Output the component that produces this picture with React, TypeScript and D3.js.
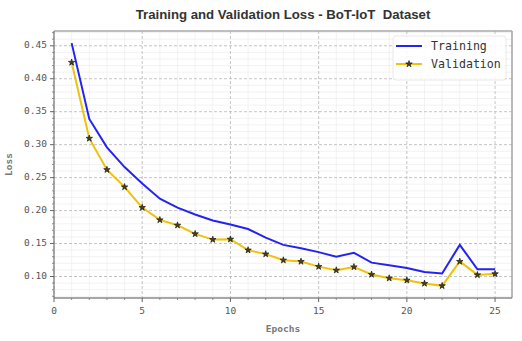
import React, { useRef, useEffect } from 'react';
import * as d3 from 'd3';

const epochs = d3.range(1, 26);

const trainingLoss = [
  0.454, 0.339, 0.296, 0.266, 0.241, 0.218, 0.2045, 0.194, 0.185, 0.179,
  0.172, 0.159, 0.148, 0.143, 0.137, 0.130, 0.136, 0.121, 0.117, 0.113,
  0.107, 0.1045, 0.148, 0.111, 0.111,
];

const validationLoss = [
  0.4247, 0.3095, 0.262, 0.2358, 0.2045, 0.1858, 0.1777, 0.1646, 0.156, 0.1565,
  0.140, 0.134, 0.1247, 0.1227, 0.115, 0.1095, 0.1145, 0.103, 0.0974, 0.0944,
  0.0894, 0.0858, 0.1227, 0.1024, 0.104,
];

const xTicks = [0, 5, 10, 15, 20, 25];
const yTicks = [0.10, 0.15, 0.20, 0.25, 0.30, 0.35, 0.40, 0.45];

const mono = "'DejaVu Sans Mono', monospace";

const LossChart = () => {
  const chartRef = useRef(null);

  useEffect(() => {
    if (!chartRef.current) return;

    const W = 522;
    const H = 341;
    const margin = { top: 31, right: 10, bottom: 43, left: 54 };
    const x0 = margin.left;
    const x1 = W - margin.right;
    const y0 = H - margin.bottom;
    const y1 = margin.top;

    const svg = d3.select(chartRef.current)
      .attr('width', W)
      .attr('height', H)
      .html('');

    svg.append('rect').attr('width', W).attr('height', H).attr('fill', '#fff');

    const xScale = d3.scaleLinear().domain([0, 25.96]).range([x0, x1]);
    const all = trainingLoss.concat(validationLoss);
    const lo = d3.min(all), hi = d3.max(all);
    const pad = (hi - lo) * 0.05;
    const yScale = d3.scaleLinear().domain([lo - pad, hi + pad]).range([y0, y1]);

    const xMinor = d3.range(0, 26).filter(v => v % 5 !== 0);
    const yMinor = d3.range(7, 48).map(v => v / 100).filter(v => Math.round(v * 100) % 5 !== 0);

    // minor grid
    const grid = svg.append('g');
    grid.selectAll('.mx').data(xMinor).enter().append('line')
      .attr('x1', d => xScale(d)).attr('x2', d => xScale(d))
      .attr('y1', y1).attr('y2', y0)
      .attr('stroke', '#ececec').attr('stroke-width', 0.7);
    grid.selectAll('.my').data(yMinor).enter().append('line')
      .attr('x1', x0).attr('x2', x1)
      .attr('y1', d => yScale(d)).attr('y2', d => yScale(d))
      .attr('stroke', '#ececec').attr('stroke-width', 0.7);

    // major grid
    grid.selectAll('.gx').data(xTicks).enter().append('line')
      .attr('x1', d => xScale(d)).attr('x2', d => xScale(d))
      .attr('y1', y1).attr('y2', y0)
      .attr('stroke', '#b5b5b5').attr('stroke-width', 0.8)
      .attr('stroke-dasharray', '3,2');
    grid.selectAll('.gy').data(yTicks).enter().append('line')
      .attr('x1', x0).attr('x2', x1)
      .attr('y1', d => yScale(d)).attr('y2', d => yScale(d))
      .attr('stroke', '#b5b5b5').attr('stroke-width', 0.8)
      .attr('stroke-dasharray', '3,2');

    // lines
    const line = d3.line()
      .x((d, i) => xScale(epochs[i]))
      .y(d => yScale(d));

    svg.append('path')
      .datum(trainingLoss)
      .attr('d', line)
      .attr('fill', 'none')
      .attr('stroke', '#2424f2')
      .attr('stroke-width', 2);

    svg.append('path')
      .datum(validationLoss)
      .attr('d', line)
      .attr('fill', 'none')
      .attr('stroke', '#eec20e')
      .attr('stroke-width', 2);

    const star = d3.symbol().type(d3.symbolStar).size(13);
    svg.selectAll('.vm').data(validationLoss).enter().append('path')
      .attr('d', star)
      .attr('transform', (d, i) => `translate(${xScale(epochs[i])},${yScale(d)})`)
      .attr('fill', '#4a4012')
      .attr('stroke', '#1a1a1a')
      .attr('stroke-width', 0.7);

    // spines
    svg.append('line').attr('x1', x0).attr('x2', x1).attr('y1', y1).attr('y2', y1)
      .attr('stroke', '#a8a8a8').attr('stroke-width', 1.6);
    svg.append('line').attr('x1', x1).attr('x2', x1).attr('y1', y1).attr('y2', y0)
      .attr('stroke', '#a8a8a8').attr('stroke-width', 1.6);
    svg.append('line').attr('x1', x0).attr('x2', x1).attr('y1', y0).attr('y2', y0)
      .attr('stroke', '#8a8a8a').attr('stroke-width', 1.6);
    svg.append('line').attr('x1', x0).attr('x2', x0).attr('y1', y1).attr('y2', y0)
      .attr('stroke', '#777').attr('stroke-width', 1.2);

    // ticks
    const ax = svg.append('g');
    ax.selectAll('.tx').data(xTicks).enter().append('line')
      .attr('x1', d => xScale(d)).attr('x2', d => xScale(d))
      .attr('y1', y0).attr('y2', y0 + 4)
      .attr('stroke', '#666').attr('stroke-width', 1);
    ax.selectAll('.tmx').data(xMinor).enter().append('line')
      .attr('x1', d => xScale(d)).attr('x2', d => xScale(d))
      .attr('y1', y0).attr('y2', y0 + 2)
      .attr('stroke', '#777').attr('stroke-width', 0.8);
    ax.selectAll('.ty').data(yTicks).enter().append('line')
      .attr('x1', x0 - 4).attr('x2', x0)
      .attr('y1', d => yScale(d)).attr('y2', d => yScale(d))
      .attr('stroke', '#666').attr('stroke-width', 1);
    ax.selectAll('.tmy').data(yMinor).enter().append('line')
      .attr('x1', x0 - 2).attr('x2', x0)
      .attr('y1', d => yScale(d)).attr('y2', d => yScale(d))
      .attr('stroke', '#777').attr('stroke-width', 0.8);

    ax.selectAll('.lx').data(xTicks).enter().append('text')
      .attr('x', d => xScale(d))
      .attr('y', y0 + 13)
      .attr('text-anchor', 'middle')
      .attr('dominant-baseline', 'middle')
      .attr('font-family', mono)
      .attr('font-size', '9.5px')
      .attr('fill', '#555')
      .text(d => d);
    ax.selectAll('.ly').data(yTicks).enter().append('text')
      .attr('x', x0 - 7)
      .attr('y', d => yScale(d))
      .attr('text-anchor', 'end')
      .attr('dominant-baseline', 'middle')
      .attr('font-family', mono)
      .attr('font-size', '9.5px')
      .attr('fill', '#555')
      .text(d => d.toFixed(2));

    // axis labels
    svg.append('text')
      .attr('x', (x0 + x1) / 2)
      .attr('y', 329)
      .attr('text-anchor', 'middle')
      .attr('dominant-baseline', 'middle')
      .attr('font-family', mono)
      .attr('font-size', '9.5px')
      .attr('font-weight', 'bold')
      .attr('fill', '#777')
      .text('Epochs');
    svg.append('text')
      .attr('transform', `translate(9,${(y0 + y1) / 2}) rotate(-90)`)
      .attr('text-anchor', 'middle')
      .attr('dominant-baseline', 'middle')
      .attr('font-family', mono)
      .attr('font-size', '9.5px')
      .attr('font-weight', 'bold')
      .attr('fill', '#777')
      .text('Loss');

    // title
    svg.append('text')
      .attr('x', (x0 + x1) / 2)
      .attr('y', 16)
      .attr('text-anchor', 'middle')
      .attr('dominant-baseline', 'middle')
      .attr('font-family', "'Liberation Sans', Arial, sans-serif")
      .attr('font-size', '13.2px')
      .attr('font-weight', 'bold')
      .attr('fill', '#333')
      .style('white-space', 'pre')
      .text('Training and Validation Loss - BoT-IoT  Dataset');

    // legend
    const legend = svg.append('g').attr('transform', 'translate(393,36)');
    legend.append('rect')
      .attr('width', 113).attr('height', 44).attr('rx', 3)
      .attr('fill', '#fff').attr('fill-opacity', 0.85)
      .attr('stroke', '#e2e2e2').attr('stroke-width', 0.8);
    const items = [
      { name: 'Training', color: '#2424f2', marker: false },
      { name: 'Validation', color: '#eec20e', marker: true },
    ];
    items.forEach((it, i) => {
      const cy = 10 + i * 18;
      legend.append('line')
        .attr('x1', 3).attr('x2', 29).attr('y1', cy).attr('y2', cy)
        .attr('stroke', it.color).attr('stroke-width', 2);
      if (it.marker) {
        legend.append('path').attr('d', star)
          .attr('transform', `translate(16,${cy})`)
          .attr('fill', '#4a4012').attr('stroke', '#1a1a1a').attr('stroke-width', 0.7);
      }
      legend.append('text')
        .attr('x', 38).attr('y', cy)
        .attr('dominant-baseline', 'middle')
        .attr('font-family', mono)
        .attr('font-size', '11.6px')
        .attr('fill', '#333')
        .text(it.name);
    });
  }, []);

  return (
    <div style={{ position: 'fixed', left: 0, top: 0 }}>
      <svg ref={chartRef} style={{ display: 'block' }}></svg>
    </div>
  );
};

export default function App() {
  return <LossChart />;
}
